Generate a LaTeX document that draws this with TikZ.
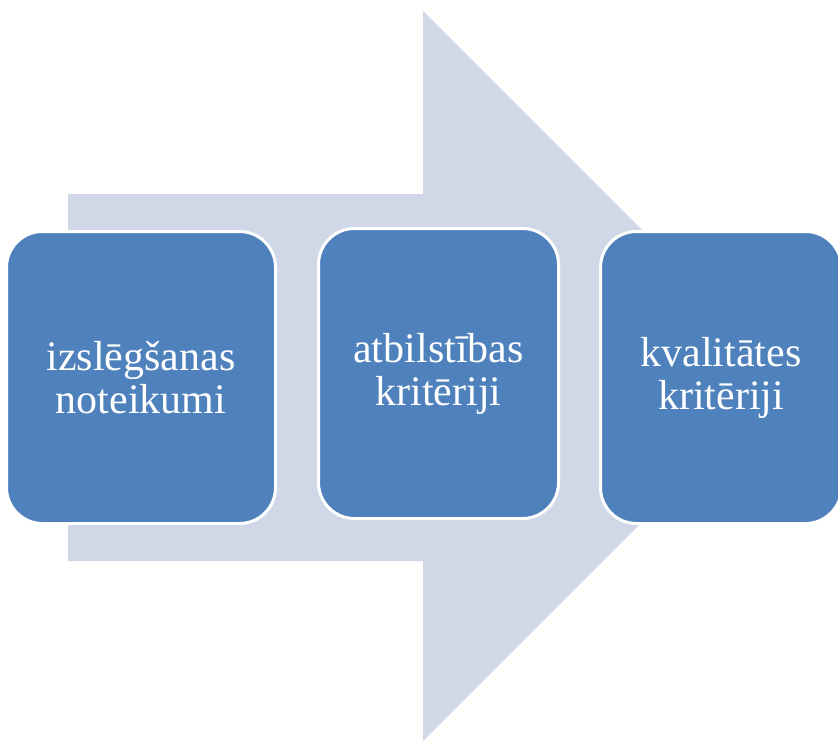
\documentclass[tikz,border=0pt]{standalone}
\usepackage{fontspec}
\setmainfont{Liberation Serif}
\usepackage{tikz}
\usetikzlibrary{positioning}
\definecolor{boxblue}{HTML}{4F81BD}
\definecolor{arrowgray}{HTML}{D0D8E8}

\begin{document}
\begin{tikzpicture}[x = 1pt, y = -1pt,
    stepbox/.style = {draw = white, line width = 3pt, fill = boxblue, rounded corners = 36pt,
        inner sep = 0pt, align = center, text = white, font = \fontsize{42}{43}\selectfont}]
    \useasboundingbox (0,0) rectangle (838,741);
    % big background arrow
    \fill[arrowgray] (68,194) -- (423,194) -- (423,11) -- (788,376) -- (423,741) -- (423,561) -- (68,561) -- cycle;
    \node[stepbox, minimum width = 269pt, minimum height = 292pt] (izsl) at (141,377.5) {izslēgšanas\\noteikumi};
    \node[stepbox, minimum width = 240pt, minimum height = 290pt] (atbilst) at (438.5,373.5) {atbilstības\\kritēriji};
    \node[stepbox, minimum width = 241pt, minimum height = 292pt] (kval) at (721,377.5) {kvalitātes\\kritēriji};
\end{tikzpicture}
\end{document}
